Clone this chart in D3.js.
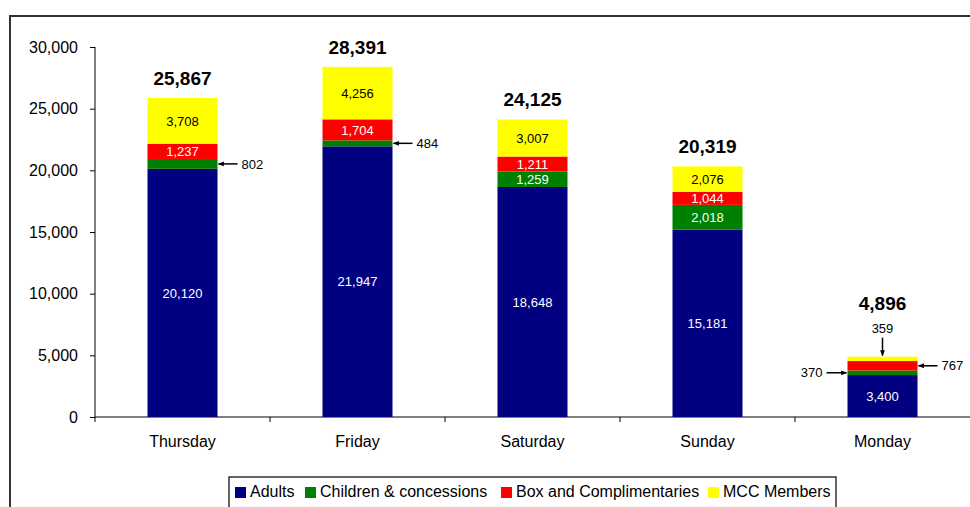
<!DOCTYPE html>
<html>
<head>
<meta charset="utf-8">
<script src="https://cdn.jsdelivr.net/npm/d3@7"></script>
<style>
  html, body { margin: 0; padding: 0; background: #fff; }
  svg { display: block; font-family: "Liberation Sans", Arial, sans-serif; }
</style>
</head>
<body>
<svg id="chart" width="970" height="507"></svg>
<script>
// Attendance by day, split by ticket type
const days = ["Thursday", "Friday", "Saturday", "Sunday", "Monday"];
const adults = [20120, 21947, 18648, 15181, 3400];
const children = [802, 484, 1259, 2018, 370];
const box = [1237, 1704, 1211, 1044, 767];
const members = [3708, 4256, 3007, 2076, 359];
const seriesNames = ["Adults", "Children & concessions", "Box and Complimentaries", "MCC Members"];
const yTicks = [0, 5000, 10000, 15000, 20000, 25000, 30000];

const colors = ["#000080", "#008000", "#ff0000", "#ffff00"];
const labelColors = ["#ffffff", "#ffffff", "#ffffff", "#000000"];
const keys = ["adults", "children", "box", "members"];

const rows = days.map((d, i) => ({
  day: d, adults: adults[i], children: children[i], box: box[i], members: members[i]
}));

const svg = d3.select("#chart");
const fmt = d3.format(",");

// outer frame
svg.append("rect")
  .attr("x", 10).attr("y", 16).attr("width", 980).attr("height", 520)
  .attr("fill", "none").attr("stroke", "#333").attr("stroke-width", 2);

const x = d3.scaleBand().domain(days).range([95, 970]).paddingInner(0.6).paddingOuter(0.3);
const y = d3.scaleLinear().domain([0, 30000]).range([417, 47]);

// y axis
const yAxis = svg.append("g").attr("transform", "translate(95,0)")
  .call(d3.axisLeft(y).tickValues(yTicks).tickFormat(fmt).tickSize(5).tickPadding(12));
yAxis.select(".domain").attr("stroke", "#000").attr("d", "M0,47V417");
yAxis.selectAll("line").attr("stroke", "#000");
yAxis.selectAll("text").attr("font-size", 16).attr("fill", "#000")
  .attr("font-family", "Liberation Sans, Arial, sans-serif");

// x axis line with category separator ticks
const xg = svg.append("g");
xg.append("line").attr("x1", 95).attr("x2", 970).attr("y1", 417).attr("y2", 417).attr("stroke", "#000");
const step = x.step();
days.forEach((d, i) => {
  const tx = 95 + i * step;
  xg.append("line").attr("x1", tx).attr("x2", tx).attr("y1", 417).attr("y2", 422).attr("stroke", "#000");
});
xg.selectAll("text.day").data(days).join("text")
  .attr("class", "day")
  .attr("x", d => x(d) + x.bandwidth() / 2)
  .attr("y", 447)
  .attr("text-anchor", "middle")
  .attr("font-size", 16)
  .text(d => d);

// stacked bars
const stacked = d3.stack().keys(keys)(rows);
const layers = svg.append("g").selectAll("g").data(stacked).join("g")
  .attr("fill", (d, i) => colors[i]);
layers.selectAll("rect").data(d => d).join("rect")
  .attr("x", d => x(d.data.day))
  .attr("width", x.bandwidth())
  .attr("y", d => y(d[1]))
  .attr("height", d => y(d[0]) - y(d[1]));

// segments too thin for an inner label get an arrow callout
const outside = {
  "children|Thursday": "right", "children|Friday": "right",
  "children|Monday": "left", "box|Monday": "right",
  "members|Monday": "top"
};
const labelG = svg.append("g");
const annG = svg.append("g");

svg.append("defs").append("marker")
  .attr("id", "arrow").attr("viewBox", "0 0 10 10")
  .attr("refX", 9).attr("refY", 5)
  .attr("markerWidth", 7).attr("markerHeight", 6)
  .attr("markerUnits", "userSpaceOnUse")
  .attr("orient", "auto")
  .append("path").attr("d", "M0,1L10,5L0,9Z").attr("fill", "#000");

const topOfLabels = {};
stacked.forEach((layer, li) => {
  layer.forEach(d => {
    const k = layer.key + "|" + d.data.day;
    const v = d[1] - d[0];
    const xl = x(d.data.day), xr = xl + x.bandwidth(), xc = xl + x.bandwidth() / 2;
    const yc = y((d[0] + d[1]) / 2);
    const pos = outside[k];
    if (pos === "right") {
      annG.append("line").attr("x1", xr + 20).attr("x2", xr + 1).attr("y1", yc).attr("y2", yc)
        .attr("stroke", "#000").attr("stroke-width", 1.5).attr("marker-end", "url(#arrow)");
      annG.append("text").attr("x", xr + 24).attr("y", yc).attr("dy", "0.36em")
        .attr("font-size", 13).text(fmt(v));
    } else if (pos === "left") {
      annG.append("line").attr("x1", xl - 21).attr("x2", xl - 1).attr("y1", yc).attr("y2", yc)
        .attr("stroke", "#000").attr("stroke-width", 1.5).attr("marker-end", "url(#arrow)");
      annG.append("text").attr("x", xl - 25).attr("y", yc).attr("dy", "0.36em")
        .attr("text-anchor", "end").attr("font-size", 13).text(fmt(v));
    } else if (pos === "top") {
      const yt = y(d[1]);
      annG.append("line").attr("x1", xc).attr("x2", xc).attr("y1", yt - 19).attr("y2", yt - 1)
        .attr("stroke", "#000").attr("stroke-width", 1.5).attr("marker-end", "url(#arrow)");
      annG.append("text").attr("x", xc).attr("y", yt - 24)
        .attr("text-anchor", "middle").attr("font-size", 13).text(fmt(v));
      topOfLabels[d.data.day] = yt - 34;
    } else {
      labelG.append("text").attr("x", xc).attr("y", yc).attr("dy", "0.36em")
        .attr("text-anchor", "middle").attr("font-size", 13)
        .attr("fill", labelColors[li]).text(fmt(v));
    }
  });
});

// totals above each bar
const sum = d => d.adults + d.children + d.box + d.members;
svg.append("g").selectAll("text").data(rows).join("text")
  .attr("x", d => x(d.day) + x.bandwidth() / 2)
  .attr("y", d => (topOfLabels[d.day] !== undefined ? topOfLabels[d.day] : y(sum(d))) - 13)
  .attr("text-anchor", "middle")
  .attr("font-size", 19).attr("font-weight", "bold")
  .text(d => fmt(sum(d)));

// legend
const lg = svg.append("g");
lg.append("rect").attr("x", 229).attr("y", 477).attr("width", 607).attr("height", 40)
  .attr("fill", "#fff").attr("stroke", "#333").attr("stroke-width", 1.5);
const legendX = [235, 305, 501, 708];
seriesNames.forEach((n, i) => {
  lg.append("rect").attr("x", legendX[i]).attr("y", 487).attr("width", 11).attr("height", 11)
    .attr("fill", colors[i]);
  lg.append("text").attr("x", legendX[i] + 15).attr("y", 497)
    .attr("font-size", 16).text(n);
});
</script>
</body>
</html>
